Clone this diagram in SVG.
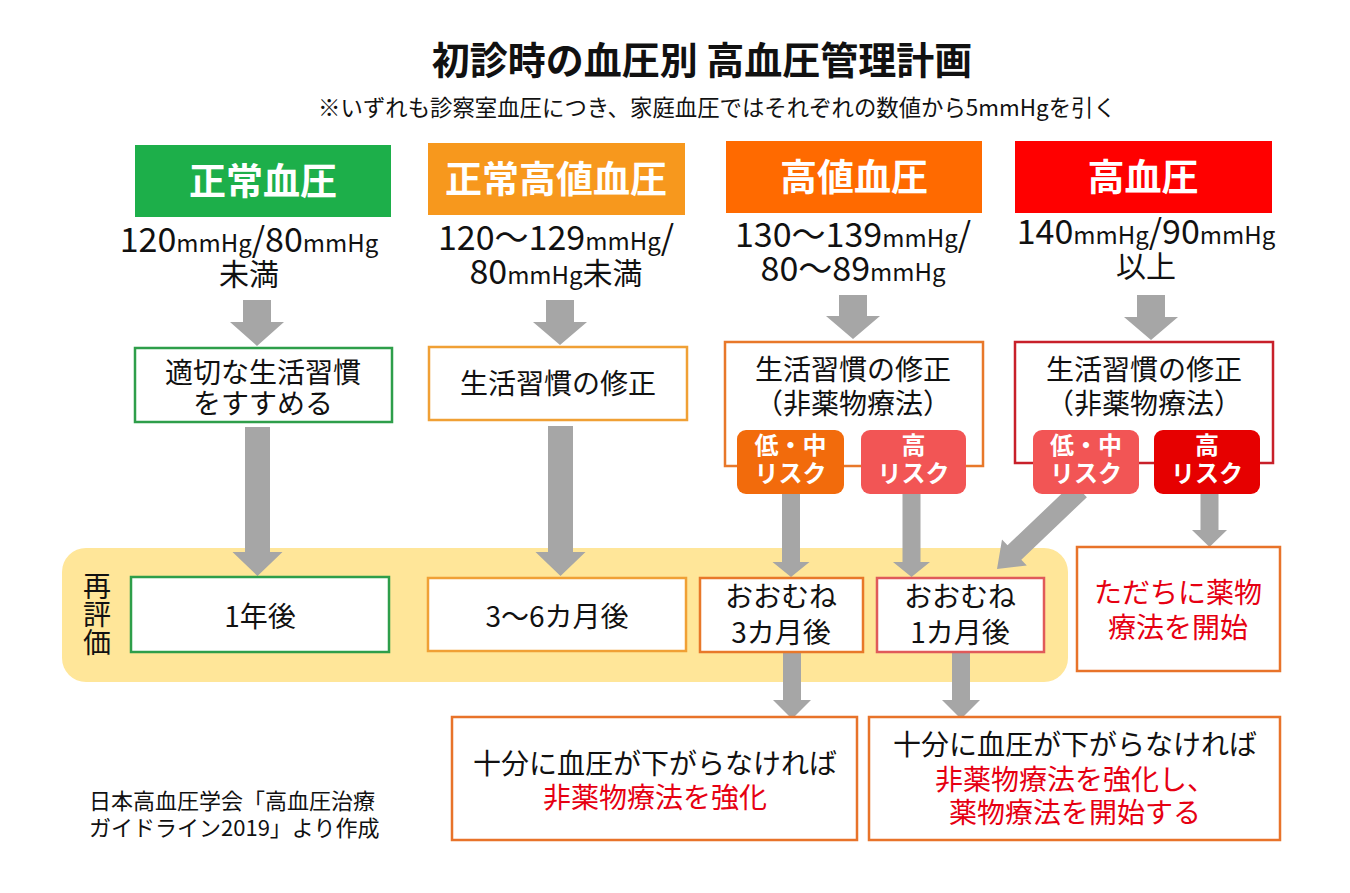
<svg xmlns="http://www.w3.org/2000/svg" width="1350" height="893" viewBox="0 0 1350 893">
<style>
text{font-family:"Noto Sans CJK JP","Noto Sans",sans-serif;fill:#111}
.title{font-size:38px;font-weight:bold;text-anchor:middle}
.sub{font-size:22.4px;text-anchor:middle}
.hdr{font-size:37px;font-weight:bold;fill:#fff;text-anchor:middle}
.num{font-size:34px;text-anchor:middle}
.unit{font-size:24px}
.kj{font-size:30px}
.t28{font-size:28px;text-anchor:middle}
.red{fill:#E60012}
.badge{font-size:24px;font-weight:bold;fill:#fff;text-anchor:middle}
.arrow{fill:#A6A6A6}
.box{fill:#fff;stroke-width:2.5}
.foot{font-size:22px}
</style>
<rect width="1350" height="893" fill="#fff"/>

<g id="title">
<text class="title" x="702" y="74">初診時の血圧別 高血圧管理計画</text>
<text class="sub" x="717" y="116">※いずれも診察室血圧につき、家庭血圧ではそれぞれの数値から5mmHgを引く</text>
</g>

<g id="reeval-band">
<rect x="62" y="548" width="1006" height="134" rx="24" fill="#FFE699"/>
<text x="97" y="572" style="font-size:28px;writing-mode:vertical-rl;letter-spacing:0">再評価</text>
</g>

<g id="connectors">
<polygon class="arrow" points="243,300 271,300 271,322 284,322 257,346 230,322 243,322"/>
<polygon class="arrow" points="546,300 574,300 574,322 587,322 560,345 533,322 546,322"/>
<polygon class="arrow" points="839,295 867,295 867,316 880,316 853,339 826,316 839,316"/>
<polygon class="arrow" points="1137,295 1165,295 1165,317 1178,317 1151,340 1124,317 1137,317"/>
<polygon class="arrow" points="245,427 270,427 270,552 282.5,552 257.5,576 232.5,552 245,552"/>
<polygon class="arrow" points="548,426 573,426 573,552 585.5,552 560.5,576 535.5,552 548,552"/>
<polygon class="arrow" points="782,490 800,490 800,562 809.5,562 791,577 772.5,562 782,562"/>
<polygon class="arrow" points="902.5,490 920.5,490 920.5,562 930,562 911.5,577 893,562 902.5,562"/>
<polygon class="arrow" points="1200.5,490 1218.5,490 1218.5,530 1227,530 1209.5,547 1192,530 1200.5,530"/>
<polygon class="arrow" points="1086.9,497.2 1021.3,559.7 1026.8,565.5 997,569 1002,539.5 1007.5,545.3 1073.1,482.8"/>
<polygon class="arrow" points="783,652 801,652 801,700 811,700 792,719 773,700 783,700"/>
<polygon class="arrow" points="952,652 970,652 970,700 980,700 961,719 942,700 952,700"/>
</g>

<g id="normal">
<rect x="135" y="145" width="256" height="72" fill="#1DAF4A"/>
<text class="hdr" x="263" y="195">正常血圧</text>
<text class="num" x="249" y="252">120<tspan class="unit">mmHg</tspan>/80<tspan class="unit">mmHg</tspan><tspan class="kj" x="249" y="285">未満</tspan></text>
</g>
<g id="high-normal">
<rect x="428" y="143" width="257" height="72" fill="#F7981D"/>
<text class="hdr" x="556" y="193">正常高値血圧</text>
<text class="num" x="556" y="250">120～129<tspan class="unit">mmHg</tspan>/<tspan x="556" y="284">80</tspan><tspan class="unit">mmHg</tspan><tspan class="kj">未満</tspan></text>
</g>
<g id="elevated">
<rect x="726" y="141" width="256" height="72" fill="#FF6A00"/>
<text class="hdr" x="854" y="191">高値血圧</text>
<text class="num" x="853" y="247">130～139<tspan class="unit">mmHg</tspan>/<tspan x="853" y="281">80～89</tspan><tspan class="unit">mmHg</tspan></text>
</g>
<g id="hypertension">
<rect x="1015" y="141" width="257" height="72" fill="#FF0000"/>
<text class="hdr" x="1143" y="191">高血圧</text>
<text class="num" x="1146" y="244">140<tspan class="unit">mmHg</tspan>/90<tspan class="unit">mmHg</tspan><tspan class="kj" x="1146" y="277">以上</tspan></text>
</g>

<g id="action-normal">
<rect class="box" x="135" y="348" width="257" height="74" stroke="#2E9E4A"/>
<text class="t28" x="263" y="383">適切な生活習慣<tspan x="263" y="414">をすすめる</tspan></text>
</g>
<g id="action-high-normal">
<rect class="box" x="429" y="347" width="258" height="73" stroke="#F0A035"/>
<text class="t28" x="558" y="394">生活習慣の修正</text>
</g>
<g id="action-elevated">
<rect class="box" x="725" y="342" width="258" height="124" stroke="#E8782A"/>
<text class="t28" x="853" y="380">生活習慣の修正<tspan x="853" y="414">（非薬物療法）</tspan></text>
</g>
<g id="action-hypertension">
<rect class="box" x="1015" y="342" width="258" height="121" stroke="#C8202A"/>
<text class="t28" x="1144" y="380">生活習慣の修正<tspan x="1144" y="414">（非薬物療法）</tspan></text>
</g>

<g id="risk-elevated-low">
<rect x="737" y="430" width="107" height="64" rx="9" fill="#F26B0C"/>
<text class="badge" x="790.5" y="454">低・中<tspan x="790.5" y="482">リスク</tspan></text>
</g>
<g id="risk-elevated-high">
<rect x="861" y="430" width="105" height="64" rx="9" fill="#F25555"/>
<text class="badge" x="913.5" y="454">高<tspan x="913.5" y="482">リスク</tspan></text>
</g>
<g id="risk-hyper-low">
<rect x="1033" y="430" width="106" height="64" rx="9" fill="#F25555"/>
<text class="badge" x="1086" y="454">低・中<tspan x="1086" y="482">リスク</tspan></text>
</g>
<g id="risk-hyper-high">
<rect x="1154" y="430" width="106" height="64" rx="9" fill="#E60000"/>
<text class="badge" x="1207" y="454">高<tspan x="1207" y="482">リスク</tspan></text>
</g>

<g id="reeval-1year">
<rect class="box" x="131" y="577" width="258" height="75" stroke="#2E9E4A"/>
<text class="t28" x="260" y="627">1年後</text>
</g>
<g id="reeval-3-6months">
<rect class="box" x="428" y="578" width="258" height="73" stroke="#F0A035"/>
<text class="t28" x="557" y="627">3～6カ月後</text>
</g>
<g id="reeval-3months">
<rect class="box" x="700" y="578" width="163" height="74" stroke="#E8782A"/>
<text class="t28" x="781" y="607">おおむね<tspan x="781" y="643">3カ月後</tspan></text>
</g>
<g id="reeval-1month">
<rect class="box" x="877" y="578" width="167" height="74" stroke="#E05A5A"/>
<text class="t28" x="960" y="607">おおむね<tspan x="960" y="643">1カ月後</tspan></text>
</g>

<g id="immediate-drug">
<rect class="box" x="1077" y="547" width="203" height="124" stroke="#E8732A"/>
<text class="t28 red" x="1178" y="603">ただちに薬物<tspan x="1178" y="638">療法を開始</tspan></text>
</g>

<g id="followup-3months">
<rect class="box" x="452" y="717" width="405" height="123" stroke="#E8732A"/>
<text class="t28" x="655" y="774">十分に血圧が下がらなければ<tspan class="red" x="655" y="808">非薬物療法を強化</tspan></text>
</g>
<g id="followup-1month">
<rect class="box" x="869" y="717" width="411" height="123" stroke="#E8732A"/>
<text class="t28" x="1075" y="755">十分に血圧が下がらなければ<tspan class="red" x="1075" y="790">非薬物療法を強化し、</tspan><tspan class="red" x="1075" y="823">薬物療法を開始する</tspan></text>
</g>

<g id="source">
<text class="foot" x="89" y="809">日本高血圧学会「高血圧治療<tspan x="89" y="836">ガイドライン2019」より作成</tspan></text>
</g>
</svg>
